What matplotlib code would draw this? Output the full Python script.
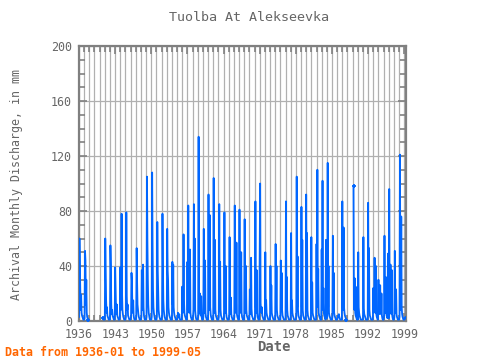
import matplotlib
matplotlib.use('Agg')
import matplotlib.pyplot as plt
import numpy as np
from matplotlib.ticker import MultipleLocator, FixedLocator

N = None
start_year = 1936
# Monthly discharge (mm), one row per year, Jan..Dec (None = missing)
monthly = [
    [3, 60, 41, 22, 8, 19, 6, 4, 3, 2, 1, 1],          # 1936
    [1, 2, 51, 44, 12, 30, 6, 3, 2, 1, N, N],          # 1937
    [N] * 12,                                          # 1938
    [N] * 12,                                          # 1939
    [N, N, N, N, N, N, N, N, 2, 1, 1, 1],              # 1940
    [1, 60, 36, 15, 6, 10, 4, 3, 2, 1, 1, 1],          # 1941
    [1, 55, 40, 12, 5, 8, 4, 3, 2, 1, 1, 1],           # 1942
    [39, 22, 9, 5, 12, 4, 3, 2, 1, 1, 1, 2],           # 1943
    [39, 8, 20, 78, 21, 8, 5, 3, 2, 1, 1, 1],          # 1944
    [1, 3, 79, 18, 8, 12, 4, 3, 2, 1, 1, 1],           # 1945
    [1, 3, 35, 29, 10, 6, 15, 4, 2, 1, 1, 1],          # 1946
    [1, 3, 53, 29, 12, 8, 5, 3, 2, 1, 1, 1],           # 1947
    [1, 3, 37, 12, 8, 41, 10, 4, 2, 1, 1, 1],          # 1948
    [1, 3, 105, 58, 30, 12, 6, 4, 2, 1, 1, 1],         # 1949
    [1, 3, 108, 56, 23, 10, 6, 4, 2, 1, 1, 1],         # 1950
    [1, 3, 72, 37, 21, 8, 5, 3, 2, 1, 1, 1],           # 1951
    [1, 3, 78, 40, 15, 8, 5, 3, 2, 1, 1, 1],           # 1952
    [1, 67, 37, 30, 10, 6, 4, 3, 2, 1, 1, 1],          # 1953
    [1, 43, 12, 41, 10, 6, 4, 3, 2, 1, 1, 1],          # 1954
    [1, 2, 6, 4, 3, 5, 2, 1, 1, 1, 1, 1],              # 1955
    [25, 6, 10, 63, 15, 6, 4, 3, 2, 1, 1, 1],          # 1956
    [43, 8, 84, 12, 6, 8, 52, 6, 3, 2, 1, 1],          # 1957
    [1, 3, 8, 85, 12, 60, 8, 4, 2, 1, 1, 1],           # 1958
    [1, 3, 134, 8, 6, 20, 5, 4, 18, 3, 1, 1],          # 1959
    [1, 3, 67, 10, 6, 44, 6, 3, 2, 1, 1, 1],           # 1960
    [1, 92, 12, 8, 77, 10, 5, 3, 2, 1, 1, 1],          # 1961
    [1, 104, 10, 6, 59, 8, 4, 3, 2, 1, 1, 1],          # 1962
    [1, 3, 85, 10, 43, 8, 4, 3, 2, 1, 1, 1],           # 1963
    [1, 3, 79, 10, 6, 40, 6, 3, 2, 1, 1, 1],           # 1964
    [1, 3, 61, 8, 5, 17, 5, 3, 2, 1, 1, 1],            # 1965
    [1, 3, 84, 10, 6, 8, 57, 5, 3, 2, 1, 1],           # 1966
    [1, 81, 10, 6, 8, 50, 6, 3, 2, 1, 1, 1],           # 1967
    [1, 74, 10, 6, 40, 8, 4, 3, 2, 1, 1, 1],           # 1968
    [1, 23, 6, 5, 46, 9, 4, 3, 2, 1, 1, 1],            # 1969
    [1, 3, 87, 10, 6, 37, 6, 3, 2, 1, 1, 1],           # 1970
    [50, 100, 13, 8, 6, 10, 4, 3, 2, 1, 1, 1],         # 1971
    [1, 50, 8, 15, 6, 4, 3, 2, 1, 1, 1, 1],            # 1972
    [1, 40, 8, 26, 6, 4, 3, 2, 1, 1, 1, 1],            # 1973
    [1, 56, 10, 40, 8, 4, 3, 2, 1, 1, 1, 1],           # 1974
    [1, 44, 10, 35, 8, 4, 3, 2, 1, 1, 1, 1],           # 1975
    [1, 87, 10, 32, 8, 4, 3, 2, 1, 1, 1, 1],           # 1976
    [1, 64, 8, 15, 6, 4, 3, 2, 1, 1, 1, 1],            # 1977
    [1, 3, 105, 10, 47, 8, 4, 3, 2, 1, 1, 1],          # 1978
    [1, 83, 10, 59, 8, 4, 3, 2, 1, 1, 1, 1],           # 1979
    [92, 10, 64, 8, 4, 3, 2, 1, 1, 1, 1, 1],           # 1980
    [61, 8, 28, 6, 4, 3, 2, 1, 1, 1, 1, 1],            # 1981
    [56, 10, 110, 12, 38, 6, 4, 3, 2, 1, 1, 1],        # 1982
    [52, 10, 102, 8, 24, 6, 4, 3, 2, 1, 59, 10],       # 1983
    [2, 3, 115, 10, 40, 6, 4, 3, 2, 1, 1, 1],          # 1984
    [1, 3, 62, 10, 35, 6, 4, 3, 2, 1, 1, 1],           # 1985
    [1, 2, 4, 3, 5, 3, 2, 1, 1, 1, 1, 1],              # 1986
    [87, 10, 8, 68, 10, 6, 4, 3, 2, 1, N, N],          # 1987
    [N] * 12,                                          # 1988
    [N, N, 98, 10, 8, 31, 6, 4, 3, 2, 1, 25],          # 1989
    [1, 50, 10, 6, 4, 3, 2, 1, 1, 1, 1, 1],            # 1990
    [1, 61, 9, 5, 4, 3, 2, 1, 1, 1, 1, 1],             # 1991
    [86, 10, 53, 8, 4, 3, 2, 1, 1, 1, 1, 1],           # 1992
    [24, 6, 8, 46, 8, 6, 40, 5, 3, 2, 1, 1],           # 1993
    [30, 6, 5, 8, 26, 6, 5, 20, 4, 2, 1, 1],           # 1994
    [1, 3, 62, 8, 6, 32, 6, 4, 3, 2, 49, 5],           # 1995
    [2, 96, 8, 6, 41, 6, 5, 37, 4, 2, 1, 1],           # 1996
    [1, 3, 51, 8, 6, 23, 5, 3, 2, 1, 1, 1],            # 1997
    [1, 3, 121, 10, 8, 76, 10, 5, 3, 2, 1, 1],         # 1998
    [1, 2, 2, 3, 2],                                   # 1999 (to May)
]

title = "Tuolba At Alekseevka"
ylabel = "Archival Monthly Discharge, in mm"
xlabel = "Date"
note = "Data from 1936-01 to 1999-05"
xtick_years = list(range(1936, 2000, 7))
ytick_vals = [0, 40, 80, 120, 160, 200]

x, y = [], []
for i, row in enumerate(monthly):
    for m, v in enumerate(row):
        x.append(start_year + i + m / 12.0)
        y.append(np.nan if v is None else v)
x = np.array(x)
y = np.array(y, dtype=float)

# points bordering a gap
edge = np.zeros(len(y), dtype=bool)
for i in range(1, len(y) - 1):
    if np.isnan(y[i]):
        continue
    if np.isnan(y[i - 1]) or np.isnan(y[i + 1]):
        edge[i] = True

mono = ['DejaVu Sans Mono']
gray = '#666666'
fig = plt.figure(figsize=(4.8, 3.6), dpi=100)
ax = fig.add_axes([79 / 480, 1 - 321 / 360, (406 - 79) / 480, (321 - 46) / 360])

ax.plot(x, y, color='#0066ff', lw=1.3, zorder=3)
ax.plot(x[edge], y[edge], ls='none', marker='+', ms=3, mew=1.3, color='#0066ff', zorder=3)

ax.set_xlim(1936, 1999 + 4 / 12)
ax.set_ylim(0, 200)
ax.xaxis.set_major_locator(FixedLocator(xtick_years))
ax.xaxis.set_minor_locator(MultipleLocator(1))
ax.yaxis.set_major_locator(FixedLocator(ytick_vals))
ax.yaxis.set_minor_locator(MultipleLocator(10))
ax.set_xticklabels([str(v) for v in xtick_years])
ax.set_yticklabels([str(v) for v in ytick_vals])

ax.grid(which='major', axis='both', color='#b0b0b0', lw=0.9, zorder=1)
ax.grid(which='minor', axis='x', color='#b0b0b0', lw=0.9, zorder=1)

for s in ax.spines.values():
    s.set_color('#808080')
    s.set_linewidth(1.6)
ax.tick_params(which='both', direction='in', top=True, right=True, colors='#808080')
ax.tick_params(which='major', length=6, width=1.2)
ax.tick_params(which='minor', length=4, width=1.2)
ax.tick_params(axis='both', which='major', labelcolor=gray, labelsize=8.4, pad=5)
for lab in ax.get_xticklabels() + ax.get_yticklabels():
    lab.set_family(mono)

fig.text(249 / 480, 1 - 17.5 / 360, title, ha='center', va='center',
         fontsize=9.6, color=gray, family=mono)
fig.text(274 / 480, 1 - 347 / 360, xlabel, ha='center', va='center',
         fontsize=10, color=gray, family=mono, fontweight='bold')
fig.text(17 / 480, 1 - 184 / 360, ylabel, ha='center', va='center', rotation=90,
         fontsize=8.4, color=gray, family=mono)
fig.text(5 / 480, 1 - 352 / 360, note, ha='left', va='center',
         fontsize=8.4, color='#ff6600', family=mono, fontweight='bold')

fig.savefig('out.png', dpi=100)
